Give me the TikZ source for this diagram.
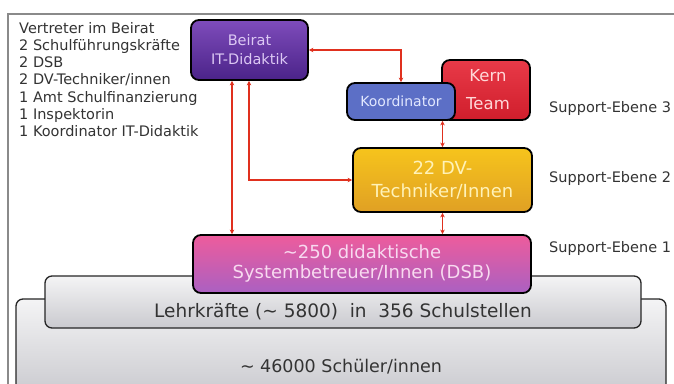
\documentclass[tikz,border=0pt]{standalone}
\usepackage{fontspec}
\setmainfont{DejaVu Sans}
\usetikzlibrary{arrows.meta,calc}
\definecolor{linered}{HTML}{E0301E}
\definecolor{framegray}{HTML}{8A8A8A}
\definecolor{textgray}{HTML}{333333}
\definecolor{beirattop}{HTML}{7E4CBB}
\definecolor{beiratbot}{HTML}{4B2389}
\definecolor{beirattxt}{HTML}{DCC8F4}
\definecolor{koordfill}{HTML}{5C6FC6}
\definecolor{koordtxt}{HTML}{E2E8FF}
\definecolor{kerntop}{HTML}{E83A48}
\definecolor{kernbot}{HTML}{D01E2C}
\definecolor{kerntxt}{HTML}{FFD8D8}
\definecolor{dvtop}{HTML}{F6C41C}
\definecolor{dvbot}{HTML}{E0A024}
\definecolor{dvtxt}{HTML}{FFF2B8}
\definecolor{dsbtop}{HTML}{EE5C9C}
\definecolor{dsbbot}{HTML}{AA60C2}
\definecolor{dsbtxt}{HTML}{F8DAF0}
\definecolor{graytop}{HTML}{F4F4F5}
\definecolor{graybot}{HTML}{CACACF}
\begin{document}
\begin{tikzpicture}[x=1pt,y=-1pt,
  box/.style={draw=black, line width=1.8pt, rounded corners=8pt, align=center, inner sep=0pt},
  graybox/.style={draw=black!85, line width=1.3pt, rounded corners=7pt, top color=graytop, bottom color=graybot, inner sep=0pt},
  conn/.style={draw=linered, line width=1.2pt, {Stealth[length=4.5pt,width=4.5pt]}-{Stealth[length=4.5pt,width=4.5pt]}},
  lbl/.style={font=\fontsize{14.5}{16}\selectfont, text=textgray, anchor=west, inner sep=0pt}]
\useasboundingbox (0,0) rectangle (674,383);
\clip (0,0) rectangle (674,383);
\fill[white] (0,0) rectangle (674,383);
\draw[framegray, line width=1.5pt] (8,390) -- (8,14) -- (680,14);

% left list
\node[anchor=north west, align=left, inner sep=0pt, text=textgray,
      font=\fontsize{14.5}{17.2}\selectfont] (list) at (19,22)
  {Vertreter im Beirat\\2 Schulführungskräfte\\2 DSB\\2 DV-Techniker/innen\\1 Amt Schulfinanzierung\\1 Inspektorin\\1 Koordinator IT-Didaktik};

% bottom layers
\node[graybox, minimum width=650pt, minimum height=96pt] (schueler) at (341,347) {};
\node[text=textgray, font=\fontsize{17.5}{20}\selectfont] (schuelertxt) at (341,367) {\textasciitilde{} 46000 Schüler/innen};
\node[graybox, minimum width=596pt, minimum height=52pt] (lehr) at (343,302) {};
\node[text=textgray, font=\fontsize{18.5}{20}\selectfont] (lehrtxt) at (343,312) {Lehrkräfte (\textasciitilde{} 5800)\ \ in\ \ 356 Schulstellen};

% boxes
\node[box, minimum width=338pt, minimum height=58pt, top color=dsbtop, bottom color=dsbbot,
      text=dsbtxt, font=\fontsize{18}{20}\selectfont] (dsb) at (362,264)
  {\textasciitilde 250 didaktische\\Systembetreuer/Innen (DSB)};
\node[box, minimum width=179pt, minimum height=64pt, top color=dvtop, bottom color=dvbot,
      text=dvtxt, font=\fontsize{18}{23}\selectfont] (dv) at (442.5,180)
  {22 DV-\\Techniker/Innen};
\node[box, minimum width=88pt, minimum height=60pt, top color=kerntop, bottom color=kernbot,
      text=kerntxt, font=\fontsize{16.5}{28}\selectfont] (kern) at (486,90)
  {\hspace*{4pt}Kern\\\hspace*{4pt}Team};
\node[box, minimum width=108pt, minimum height=37pt, fill=koordfill,
      text=koordtxt, font=\fontsize{14}{15}\selectfont] (koord) at (401,101.5)
  {Koordinator};
\node[box, minimum width=117pt, minimum height=60pt, top color=beirattop, bottom color=beiratbot,
      text=beirattxt, font=\fontsize{14.5}{19}\selectfont] (beirat) at (249.5,50)
  {Beirat\\IT-Didaktik};

% connectors
\draw[conn] (beirat.east) -| (koord.north);
\draw[conn] ([xshift=-17.5pt]beirat.south) -- ([xshift=-17.5pt]beirat.south |- dsb.north);
\draw[conn] ([xshift=-0.5pt]beirat.south) |- (dv.west);
\draw[conn] (dv.north) -- (dv.north |- koord.south);
\draw[conn] (dv.south) -- (dv.south |- dsb.north);

% level labels
\node[lbl] (e3) at (549,108) {Support-Ebene 3};
\node[lbl] (e2) at (549,178) {Support-Ebene 2};
\node[lbl] (e1) at (549,248) {Support-Ebene 1};
\end{tikzpicture}
\end{document}
